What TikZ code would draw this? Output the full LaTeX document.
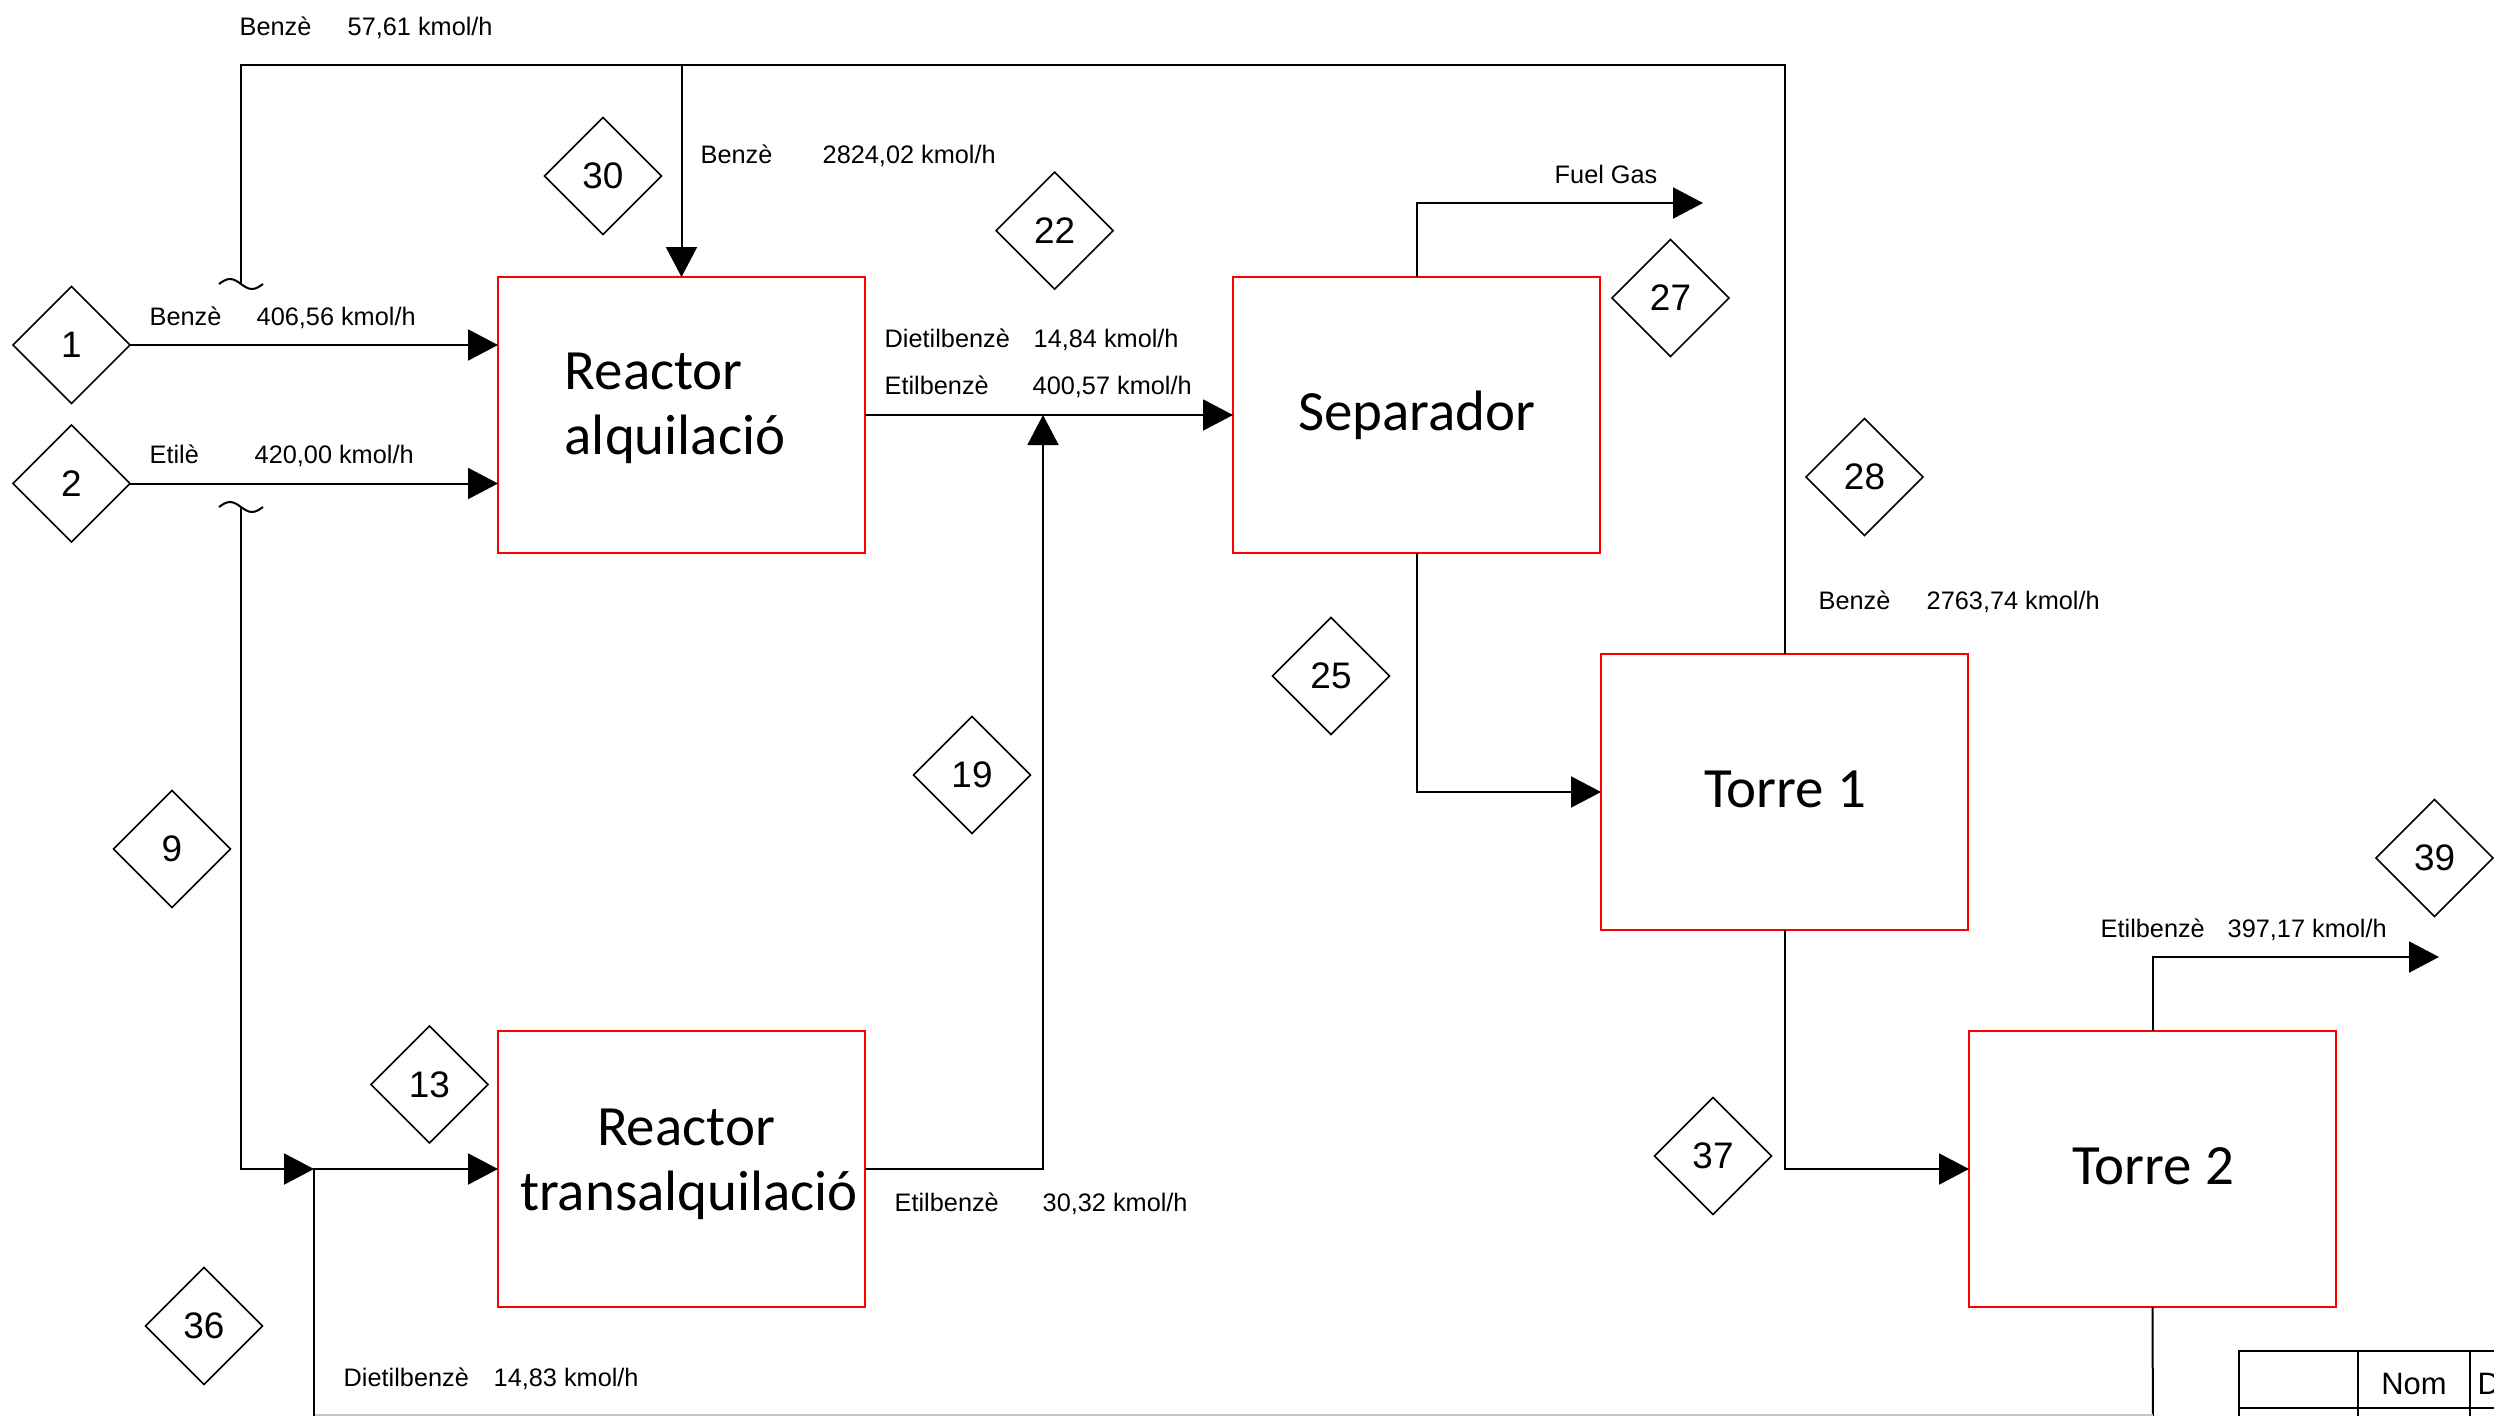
\documentclass[tikz,border=0pt]{standalone}
\usepackage{fontspec}
\setmainfont{Liberation Sans}
\newfontfamily\calib{Carlito}
\usetikzlibrary{arrows.meta,shapes.geometric}
\begin{document}
\begin{tikzpicture}[x=0.1mm,y=-0.1mm,
  line/.style={line width=0.2mm, draw=black},
  arr/.style={line, -{Triangle[length=3mm,width=3.1mm]}},
  unit/.style={draw=red, line width=0.18mm, rectangle, minimum width=36.7mm, minimum height=27.6mm, inner sep=0pt, outer sep=0pt, anchor=north west},
  tag/.style={draw, diamond, aspect=1, minimum width=11.7mm, minimum height=11.7mm, inner sep=0pt, outer sep=0pt, line width=0.17mm, font=\fontsize{10.5}{12}\selectfont},
  lbl/.style={inner sep=0pt, anchor=base west, font=\fontsize{7.2}{8.6}\selectfont},
  big/.style={inner sep=0pt, anchor=base, font=\calib\fontsize{16.2}{19}\selectfont},
]
\useasboundingbox (0,0) rectangle (2494,1416);
\fill[white] (0,0) rectangle (2494,1416);
\clip (0,0) rectangle (2494,1416);

% units
\node[unit] (ra) at (498,277) {};
\node[unit] (sep) at (1233,277) {};
\node[unit] (t1) at (1601,654) {};
\node[unit] (rt) at (498,1031) {};
\node[unit] (t2) at (1969,1031) {};

\node[big, anchor=base west] (tra1) at (564,389) {Reactor};
\node[big, anchor=base west] (tra2) at (564,454) {alquilació};
\node[big] (trt1) at (686,1145) {Reactor};
\node[big] (trt2) at (689,1210) {transalquilació};
\node[big] (tsep) at (1417,430) {Separador};
\node[big] (tt1) at (1785,807) {Torre 1};
\node[big] (tt2) at (2153,1184) {Torre 2};

% stream tags
\node[tag] (d1) at (71.5,345) {1};
\node[tag] (d2) at (71.5,483.5) {2};
\node[tag] (d30) at (603,176) {30};
\node[tag] (d22) at (1054.6,230.6) {22};
\node[tag] (d27) at (1670.5,298) {27};
\node[tag] (d28) at (1864.5,477) {28};
\node[tag] (d25) at (1331,676) {25};
\node[tag] (d19) at (972,775) {19};
\node[tag] (d9) at (172,849) {9};
\node[tag] (d39) at (2434.5,858) {39};
\node[tag] (d13) at (429.5,1084.5) {13};
\node[tag] (d37) at (1713,1156) {37};
\node[tag] (d36) at (204,1326) {36};

% coordinates
\coordinate (tl) at (241,65);
\coordinate (jmp1) at (241,284);
\coordinate (jmp2) at (241,507);
\coordinate (j36) at (314,1169);
\coordinate (b36) at (314,1440);
\coordinate (j19) at (1043,415);
\coordinate (fg) at (1703,203);
\coordinate (e39) at (2439,957);
\coordinate (b2) at (2153,1440);
\coordinate (g1) at (314,1415.3);
\coordinate (g2) at (2153,1415.3);

% connectors
\draw[arr] (d1.east) -- (d1.east -| ra.west);
\draw[arr] (d2.east) -- (d2.east -| ra.west);
\draw[arr] (ra.east) -- (sep.west);
\draw[arr] (rt.east) -| (j19);
\draw[arr] (sep.north) |- (fg);
\draw[arr] (sep.south) |- (t1.west);
\draw[arr] (t1.south) |- (t2.west);
\draw[arr] (t2.north) |- (e39);
\draw[line] (t2.south) -- (b2);
\draw[line, draw=gray!45] (g1) -- (g2);
\draw[line] (t1.north) |- (tl) -- (jmp1);
\draw[arr] (ra.north |- tl) -- (ra.north);
\draw[line] (jmp1) ++(-22,0) sin ++(11,-5) cos ++(11,5) sin ++(11,5) cos ++(11,-5);
\draw[line] (jmp2) ++(-22,0) sin ++(11,-5) cos ++(11,5) sin ++(11,5) cos ++(11,-5);
\draw[arr] (jmp2) |- (j36);
\draw[arr] (b36) |- (rt.west);

% labels
\node[lbl] (l1a) at (239,35) {Benzè};
\node[lbl] (l1b) at (347,35) {57,61 kmol/h};
\node[lbl] (l2a) at (149,325) {Benzè};
\node[lbl] (l2b) at (256,325) {406,56 kmol/h};
\node[lbl] (l3a) at (149,463) {Etilè};
\node[lbl] (l3b) at (254,463) {420,00 kmol/h};
\node[lbl] (l4a) at (700,163) {Benzè};
\node[lbl] (l4b) at (822,163) {2824,02 kmol/h};
\node[lbl] (l5a) at (884,347) {Dietilbenzè};
\node[lbl] (l5b) at (1033,347) {14,84 kmol/h};
\node[lbl] (l6a) at (884,394) {Etilbenzè};
\node[lbl] (l6b) at (1032,394) {400,57 kmol/h};
\node[lbl] (l7) at (1554,183) {Fuel Gas};
\node[lbl] (l8a) at (1818,609) {Benzè};
\node[lbl] (l8b) at (1926,609) {2763,74 kmol/h};
\node[lbl] (l9a) at (2100,937) {Etilbenzè};
\node[lbl] (l9b) at (2227,937) {397,17 kmol/h};
\node[lbl] (l10a) at (894,1211) {Etilbenzè};
\node[lbl] (l10b) at (1042,1211) {30,32 kmol/h};
\node[lbl] (l11a) at (343,1386) {Dietilbenzè};
\node[lbl] (l11b) at (493,1386) {14,83 kmol/h};

% title block fragment
\draw[line] (2239,1440) -- (2239,1351) -- (2520,1351);
\draw[line] (2239,1408) -- (2520,1408);
\draw[line] (2358,1351) -- (2358,1440);
\draw[line] (2470,1351) -- (2470,1440);
\node[inner sep=0pt, anchor=base, font=\fontsize{8.8}{10}\selectfont] (tnom) at (2414,1394) {Nom};
\node[inner sep=0pt, anchor=base west, font=\fontsize{8.8}{10}\selectfont] (td) at (2477,1394) {D};
\end{tikzpicture}
\end{document}
